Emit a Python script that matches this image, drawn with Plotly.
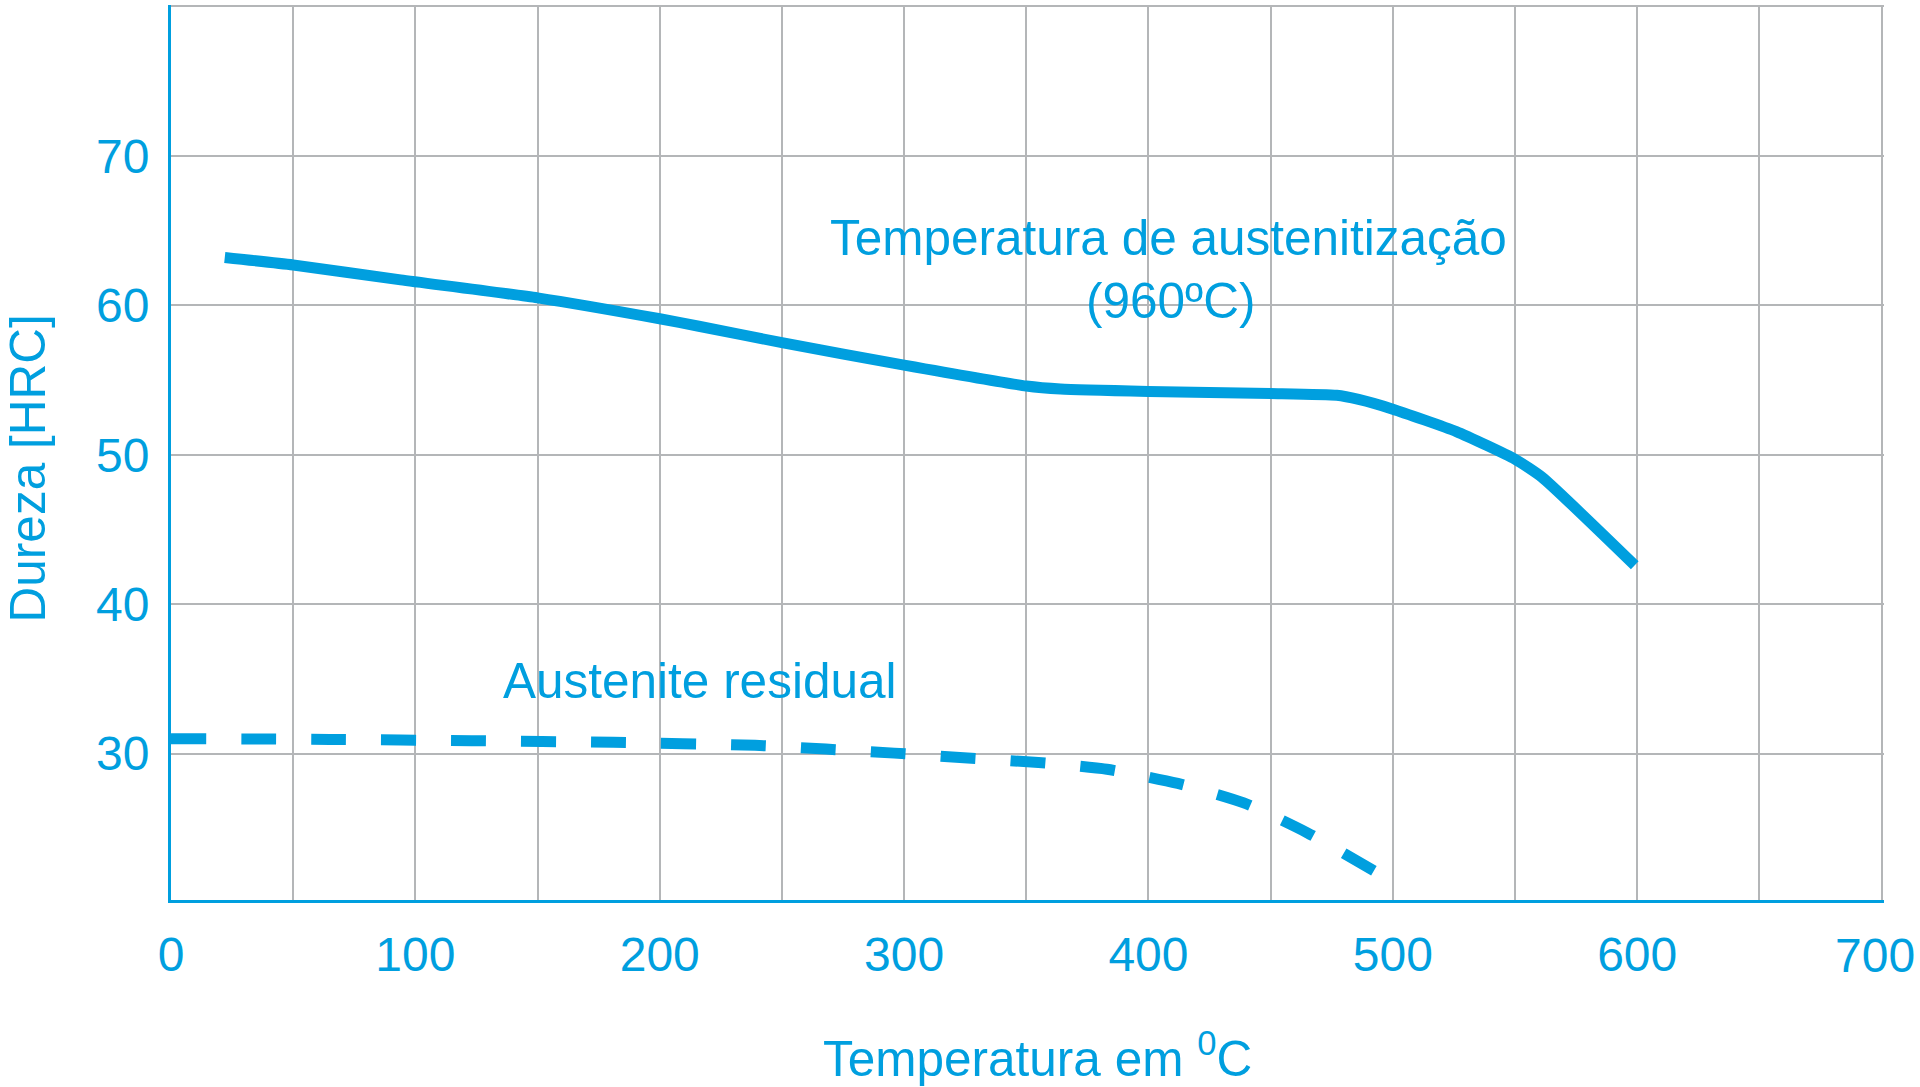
import plotly.graph_objects as go

# Data
temp_solid = [22, 50, 94, 150, 200, 216, 250, 300, 350, 364, 400, 450, 477, 486, 500, 526, 550, 561, 599]
hrc_solid = [63.2, 62.7, 61.7, 60.5, 59.1, 58.6, 57.5, 56.0, 54.6, 54.4, 54.24, 54.1, 53.98, 53.7, 53.05, 51.55, 49.7, 48.5, 42.6]

temp_dash = [0, 65, 123, 181, 239, 268, 296, 326, 355, 383, 412, 439, 465, 497]
hrc_dash = [31.0, 30.95, 30.86, 30.75, 30.55, 30.3, 30.03, 29.7, 29.4, 28.95, 28.0, 26.7, 24.7, 21.7]

x_tickvals = [0, 100, 200, 300, 400, 500, 600]
x_ticktext = ["0", "100", "200", "300", "400", "500", "600"]
x_last_tick = 700
x_last_label = "700"
x_minor_grid = [50, 150, 250, 350, 450, 550, 650, 700]
y_tickvals = [30, 40, 50, 60, 70]
y_ticktext = ["30", "40", "50", "60", "70"]
y_minor_grid = [80]

BLUE = "#009FDF"
GRID = "#B4B6B8"
FONT = "Liberation Sans, Arial, sans-serif"
ANN = 49.5

fig = go.Figure()
fig.add_trace(go.Scatter(
    x=temp_solid, y=hrc_solid, mode="lines",
    line=dict(color=BLUE, width=11, shape="spline", smoothing=0.5),
    showlegend=False, hoverinfo="skip",
))
fig.add_trace(go.Scatter(
    x=temp_dash, y=hrc_dash, mode="lines",
    line=dict(color=BLUE, width=11, dash="35px,35px", shape="spline", smoothing=0.6),
    showlegend=False, hoverinfo="skip",
))

fig.update_layout(
    width=1920, height=1087,
    margin=dict(l=171, r=36, t=5, b=187),
    paper_bgcolor="white", plot_bgcolor="white",
    font=dict(family=FONT, size=48, color=BLUE),
    xaxis=dict(
        range=[0, 701], tickvals=x_tickvals, ticktext=x_ticktext,
        showgrid=True, gridcolor=GRID, gridwidth=1.5,
        minor=dict(tickvals=x_minor_grid, showgrid=True, gridcolor=GRID, gridwidth=1.5, ticks=""),
        showline=True, linecolor=BLUE, linewidth=3,
        zeroline=False, ticks="", ticklabelstandoff=10,
        automargin=False,
        tickfont=dict(size=48, color=BLUE, family=FONT),
    ),
    yaxis=dict(
        range=[20.2, 80.1], tickvals=y_tickvals, ticktext=y_ticktext,
        showgrid=True, gridcolor=GRID, gridwidth=1.5,
        minor=dict(tickvals=y_minor_grid, showgrid=True, gridcolor=GRID, gridwidth=1.5, ticks=""),
        showline=True, linecolor=BLUE, linewidth=3,
        zeroline=False, ticks="", ticklabelstandoff=9,
        automargin=False,
        tickfont=dict(size=48, color=BLUE, family=FONT),
    ),
    annotations=[
        dict(text=x_last_label, x=x_last_tick, y=-0.0615, xref="x", yref="paper",
             xanchor="center", yanchor="middle", xshift=-7,
             showarrow=False, font=dict(size=48, color=BLUE, family=FONT)),
        dict(text="Temperatura de austenitização", x=408, y=64.55, xref="x", yref="y",
             xanchor="center", yanchor="middle",
             showarrow=False, font=dict(size=ANN, color=BLUE, family=FONT)),
        dict(text="(960ºC)", x=409, y=60.3, xref="x", yref="y",
             xanchor="center", yanchor="middle",
             showarrow=False, font=dict(size=ANN, color=BLUE, family=FONT)),
        dict(text="Austenite residual", x=216.5, y=34.9, xref="x", yref="y",
             xanchor="center", yanchor="middle",
             showarrow=False, font=dict(size=ANN, color=BLUE, family=FONT)),
        dict(text="Temperatura em <sup>0</sup>C", x=0.5056, y=-0.1734, xref="paper", yref="paper",
             xanchor="center", yanchor="middle",
             showarrow=False, font=dict(size=ANN, color=BLUE, family=FONT)),
        dict(text="Dureza [HRC]", x=-0.0836, y=0.482, xref="paper", yref="paper", textangle=-90,
             xanchor="center", yanchor="middle",
             showarrow=False, font=dict(size=ANN, color=BLUE, family=FONT)),
    ],
)

fig.write_html(
    "out.html",
    config={"displayModeBar": False},
    post_script="document.body.style.margin='0';document.body.style.overflow='hidden';",
)
